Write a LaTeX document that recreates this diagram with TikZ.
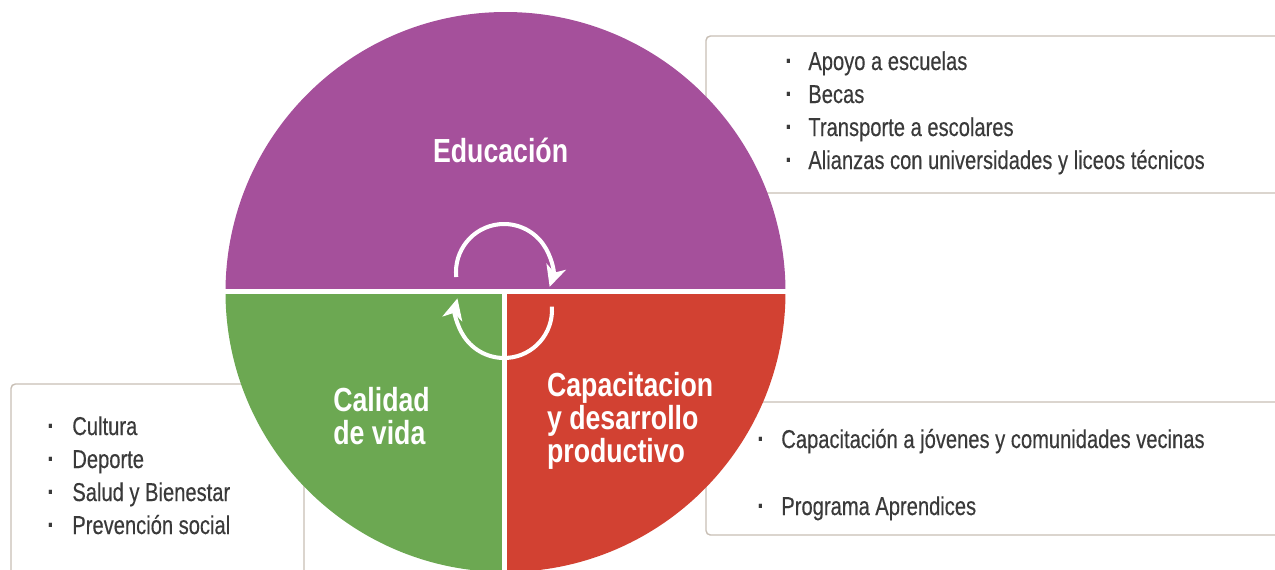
\documentclass[tikz,border=0pt]{standalone}
\usepackage{fontspec}
\setmainfont{Liberation Sans}
\newfontfamily\headfont[FakeStretch=0.8]{Liberation Sans}
\newfontfamily\itemfont[FakeStretch=0.78, FakeBold=0.3]{Liberation Sans}
\usetikzlibrary{arrows.meta}

\definecolor{eduPurple}{HTML}{A5509B}
\definecolor{vidaGreen}{HTML}{6CA852}
\definecolor{capRed}{HTML}{D24132}
\definecolor{boxLine}{HTML}{C8BFB5}
\definecolor{itemGray}{HTML}{3A3A3A}

\begin{document}
\begin{tikzpicture}[
    x=0.02cm, y=-0.02cm,
    listbox/.style={draw=boxLine, line width=0.8pt, rounded corners=2.5pt, fill=white},
    item/.style={anchor=base west, inner sep=0pt, text=itemGray, font=\itemfont\fontsize{14.7}{18}\selectfont},
    bullet/.style={item, font=\itemfont\bfseries\fontsize{15.5}{18}\selectfont},
    head/.style={anchor=north west, inner sep=0pt, text=white, align=left, font=\headfont\bfseries\fontsize{19}{18.7}\selectfont},
    cycle/.style={white, line width=2.3pt, -{Stealth[length=12pt, width=11.5pt, inset=3.5pt]}},
]
    \path[use as bounding box] (0,0) rectangle (1275,569);
    \clip (0,0) rectangle (1275,569);

    % Boxes behind the circle
    \draw[listbox] (706,36) rectangle (1290,193);
    \draw[listbox] (11,384) rectangle (304,590);
    \draw[listbox] (706,402) rectangle (1290,535);

    % Circle in three parts
    \begin{scope}
        \clip (505.5,292) circle[radius=280];
        \fill[eduPurple] (220,0) rectangle (790,291.5);
        \fill[vidaGreen] (220,291.5) rectangle (504.5,580);
        \fill[capRed] (504.5,291.5) rectangle (790,580);
    \end{scope}
    \draw[white, line width=2.8pt] (224,291.5) -- (787,291.5);
    \draw[white, line width=2.3pt] (504.5,291.5) -- (504.5,575);

    % Cycle arrows
    \draw[cycle] (504,272) ++(174:48) arc[start angle=174, end angle=378, radius=48];
    \draw[cycle] (504,310) ++(-4:48) arc[start angle=-4, end angle=194, radius=48];

    % Titles
    \node[head] (edu) at (432.7,138) {Educación};
    \node[head] (vida) at (333,387) {Calidad\\de vida};
    \node[head] (cap) at (546.7,372) {Capacitacion\\y desarrollo\\productivo};

    % Lists
    \foreach \t [count=\i] in {Apoyo a escuelas, Becas, Transporte a escolares, Alianzas con universidades y liceos técnicos} {
        \node[bullet] (edudot\i) at (785,37+33*\i) {·};
        \node[item] (edu\i) at (808,37+33*\i) {\t};
    }
    \foreach \t [count=\i] in {Cultura, Deporte, Salud y Bienestar, Prevención social} {
        \node[bullet] (vidadot\i) at (47,402+33*\i) {·};
        \node[item] (vida\i) at (72,402+33*\i) {\t};
    }
    \node[bullet] (capdot1) at (757,448) {·};
    \node[item] (cap1) at (781,448) {Capacitación a jóvenes y comunidades vecinas};
    \node[bullet] (capdot2) at (757,515) {·};
    \node[item] (cap2) at (781,515) {Programa Aprendices};
\end{tikzpicture}
\end{document}
